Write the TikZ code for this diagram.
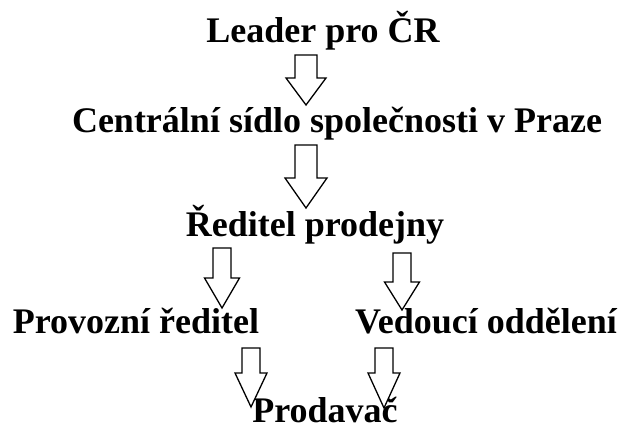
\documentclass[tikz,border=0pt]{standalone}
\usepackage{fontspec}
\setmainfont{Liberation Serif}
\usepackage{tikz}

\begin{document}
\begin{tikzpicture}[
    x=1pt, y=-1pt,
    lbl/.style={anchor=base, inner sep=0pt, font=\fontsize{36}{40}\selectfont\bfseries},
    blockarrow/.style={draw=black, line width=1.3pt, line join=miter, fill=white}
]
\useasboundingbox (0,0) rectangle (626,430);

% Levels
\node[lbl] (leader) at (323,43) {Leader pro ČR};
\node[lbl] (central) at (337,133) {Centrální sídlo společnosti v Praze};
\node[lbl] (director) at (315,237) {Ředitel prodejny};
\node[lbl] (operations) at (136,333) {Provozní ředitel};
\node[lbl] (department) at (486,333) {Vedoucí oddělení};
\node[lbl] (seller) at (325,422) {Prodavač};

% Block arrows: centre x / top / shoulder / tip / shaft half / head half
\foreach \cx/\ya/\yb/\yc/\sw/\hw in {306/55/78/105/11/20, 306/145/178/208/11/21,
    222/248/278/308/9/17.5, 402/253/282/310/9/17.5,
    251/348/373/407/9/16, 384/348/373/408/9/16}
  \draw[blockarrow] (\cx-\sw,\ya) -- (\cx+\sw,\ya) -- (\cx+\sw,\yb) -- (\cx+\hw,\yb)
    -- (\cx,\yc) -- (\cx-\hw,\yb) -- (\cx-\sw,\yb) -- cycle;

\end{tikzpicture}
\end{document}
